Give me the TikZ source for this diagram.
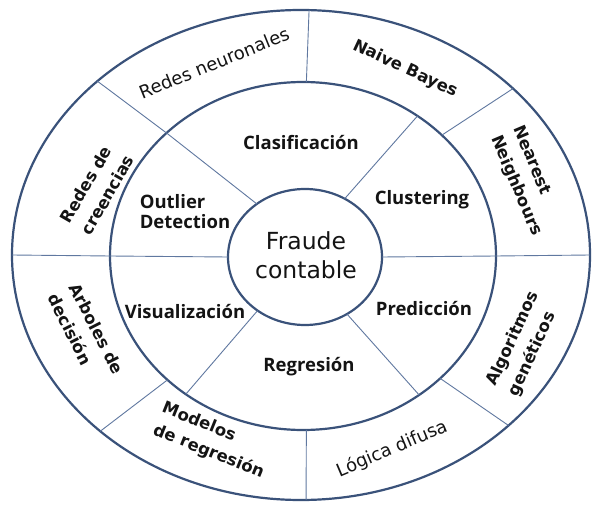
\documentclass[tikz,border=0pt]{standalone}
\usepackage{fontspec}
\setmainfont{Open Sans}
\newfontfamily\dejavu{DejaVu Sans}
\usetikzlibrary{calc}
\definecolor{ringblue}{RGB}{58,82,122}
\definecolor{divblue}{RGB}{96,120,160}
\definecolor{txt}{RGB}{20,20,20}
\tikzset{
  ring/.style={draw=ringblue, line width=2.2pt},
  divider/.style={draw=divblue, line width=0.9pt},
  midlabel/.style={font=\fontsize{18.5}{22}\selectfont\bfseries, text=txt, inner sep=0pt},
  outlabel/.style={font=\dejavu\fontsize{16.5}{24}\selectfont\bfseries, text=txt, inner sep=0pt, align=left},
  outlight/.style={font=\dejavu\fontsize{18}{24}\selectfont, text=txt, inner sep=0pt, align=left},
  corelabel/.style={font=\dejavu\fontsize{23.5}{29}\selectfont, text=txt, inner sep=0pt, align=center}
}
\begin{document}
\begin{tikzpicture}[x=1pt,y=1pt]
\useasboundingbox (0,0) rectangle (594,504);
\fill[white] (0,0) rectangle (594,504);

% centres of the three rings
\coordinate (Oc) at (301,249);
\coordinate (Mc) at (303,248);
\coordinate (Ic) at (305,247);

% rings
\draw[ring] (Oc) ellipse [x radius=289, y radius=245];
\draw[ring] (Mc) ellipse [x radius=193, y radius=174];
\draw[ring] (Ic) ellipse [x radius=77, y radius=68];

% dividers of the outer ring (outer ellipse -> middle ellipse)
\foreach \n/\a/\b in {oa/134.8/135, ob/88.4/89, oc/42.8/44, od/0/0,
                      oe/-44.1/-44.7, of/-89/-89, og/-134/-134.6, oh/180/180} {
  \coordinate (\n-1) at ($(Oc)+(\a:289 and 245)$);
  \coordinate (\n-2) at ($(Mc)+(\b:193 and 174)$);
  \draw[divider] (\n-1) -- (\n-2);
}
% dividers of the middle ring (middle ellipse -> inner ellipse)
\foreach \n/\a/\b in {ma/135/128.7, mb/53.6/59, mc/0/0,
                      md/-53/-57, me/-127.4/-128, mf/180/180} {
  \coordinate (\n-1) at ($(Mc)+(\a:193 and 174)$);
  \coordinate (\n-2) at ($(Ic)+(\b:77 and 68)$);
  \draw[divider] (\n-1) -- (\n-2);
}

% core
\node[corelabel] (core) at (306,249) {Fraude\\contable};

% middle ring
\node[midlabel] (clasif) at (301,361) {Clasificación};
\node[midlabel] (clust)  at (422,304) {Clustering};
\node[midlabel, align=left] (outl) at (185,292) {Outlier\\[-2pt]Detection};
\node[midlabel] (visu)   at (185,192) {Visualización};
\node[midlabel] (pred)   at (424,195) {Predicción};
\node[midlabel] (regr)   at (309,137) {Regresión};

% outer ring
\node[outlight, rotate=22]  (redneu) at (214,441) {Redes neuronales};
\node[outlabel, rotate=-25] (naive)  at (405,435) {Naive Bayes};
\node[outlabel, rotate=-67] (near)   at (527,323) {Nearest\\Neighbours};
\node[outlabel, rotate=65]  (algo)   at (524,160) {Algoritmos\\genéticos};
\node[outlight, rotate=23]  (logica) at (392,55)  {Lógica difusa};
\node[outlabel, rotate=-22] (modreg) at (213,63)  {Modelos\\de regresión};
\node[outlabel, rotate=-63] (arbol)  at (86,170)  {Arboles de\\decisión};
\node[outlabel, rotate=60]  (redcre) at (97,315)  {Redes de\\creencias};
\end{tikzpicture}
\end{document}
